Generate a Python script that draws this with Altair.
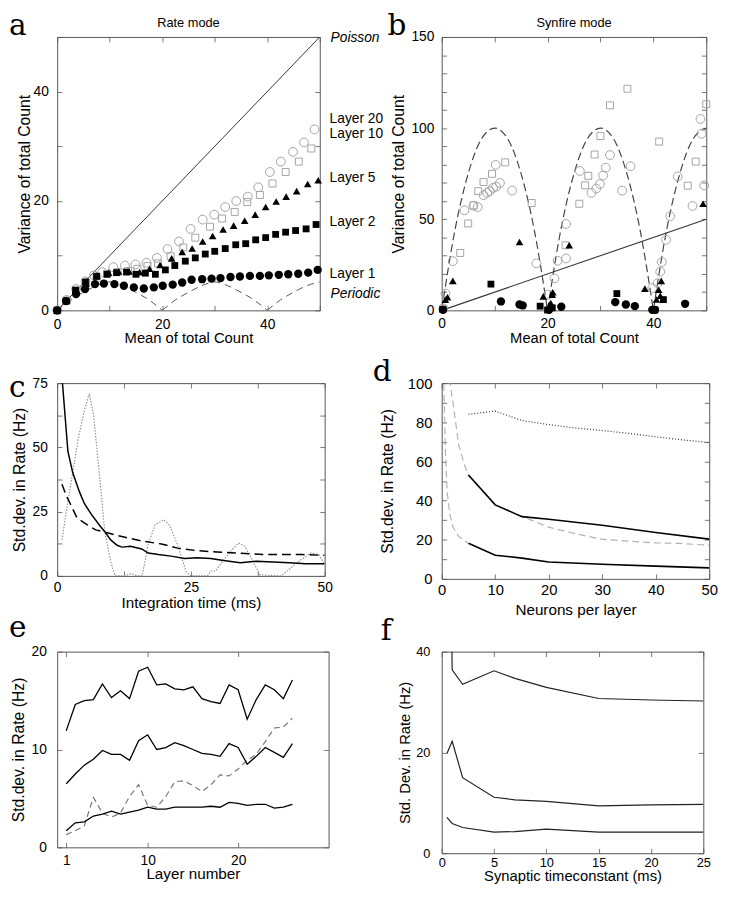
import altair as alt
import pandas as pd

SANS = "Liberation Sans"
SERIF = "DejaVu Serif"

# ---------------- panel a : Rate mode ----------------
A_L1_X = [0, 1.7, 3.6, 5.3, 7.2, 8.9, 10.9, 12.7, 14.6, 16.5, 18.4, 20.1, 22.0, 23.8,
          25.6, 27.6, 29.4, 31.1, 33.0, 34.8, 36.7, 38.6, 40.3, 42.2, 44.0, 45.9, 47.8, 49.6]
A_L1_Y = [0, 1.7, 3.0, 3.9, 4.8, 4.9, 4.8, 4.5, 4.2, 4.0, 4.2, 4.5, 4.7, 5.1,
          5.6, 5.7, 5.8, 5.9, 6.1, 6.2, 6.3, 6.3, 6.4, 6.5, 6.6, 6.7, 6.9, 7.4]
A_L2_X = [0, 1.7, 3.5, 5.4, 7.5, 9.5, 11.3, 13.2, 15.0, 16.8, 18.7, 20.6, 22.4, 24.4,
          26.3, 28.2, 30.0, 32.0, 34.0, 35.9, 37.8, 39.7, 41.6, 43.5, 45.4, 47.4, 49.3]
A_L2_Y = [0, 1.7, 3.7, 5.2, 6.2, 6.6, 6.9, 7.0, 6.6, 6.8, 6.6, 7.4, 8.2, 9.0,
          9.6, 10.3, 10.8, 11.3, 12.0, 12.2, 12.9, 13.3, 13.9, 14.3, 14.6, 14.9, 15.7]
A_L5_X = [0, 1.8, 3.6, 5.5, 7.6, 9.8, 11.7, 13.7, 15.7, 17.6, 19.6, 21.8, 23.8,
          25.7, 27.7, 29.6, 31.6, 33.6, 35.7, 37.7, 39.7, 41.7, 43.6, 45.6, 47.7, 49.7]
A_L5_Y = [0, 1.8, 3.4, 4.9, 6.4, 6.9, 7.1, 7.1, 7.0, 7.6, 8.3, 9.5, 10.7,
          11.3, 12.6, 13.6, 14.8, 15.5, 16.4, 17.5, 18.9, 19.9, 20.8, 21.8, 23.1, 23.8]
A_L10_X = [0, 1.8, 3.6, 5.5, 7.5, 9.5, 11.5, 13.5, 15.3, 17.2, 19.2, 21.6,
           24.0, 26.3, 29.1, 31.4, 33.8, 36.2, 38.6, 41.0, 43.5, 46.0, 48.4]
A_L10_Y = [0, 1.8, 3.6, 5.0, 6.2, 6.7, 7.0, 7.2, 7.6, 8.1, 8.6, 9.9,
           11.5, 13.3, 15.3, 16.8, 18.0, 19.8, 21.1, 23.2, 25.3, 27.2, 29.6]
A_L20_X = [0, 1.8, 3.6, 5.4, 7.0, 8.6, 10.7, 12.9, 14.9, 17.0, 19.0, 21.0, 23.2,
           25.4, 27.7, 29.9, 32.0, 34.1, 36.3, 38.3, 40.5, 42.6, 44.9, 47.0, 49.0]
A_L20_Y = [0, 1.9, 3.9, 5.3, 6.4, 7.0, 7.9, 8.2, 8.4, 8.7, 9.6, 11.2, 12.6,
           14.9, 16.6, 17.5, 18.9, 20.0, 20.8, 22.5, 25.3, 27.2, 29.0, 30.7, 33.1]
A_PER_X = [0, 2.5, 5, 7.5, 10, 12.5, 15, 17.5, 20,
           20, 22.5, 25, 27.5, 30, 32.5, 35, 37.5, 40,
           40, 42.5, 45, 47.5, 50]
A_PER_Y = [0, 1.9, 3.3, 4.5, 5.2, 4.5, 3.3, 1.9, 0,
           0, 1.9, 3.3, 4.5, 5.2, 4.5, 3.3, 1.9, 0,
           0, 1.9, 3.3, 4.5, 5.2]
A_PER_ARC = [1] * 9 + [2] * 9 + [3] * 5
POIS_X = [0, 50]
POIS_Y = [0, 50]
A_LABELS = ["Layer 20", "Layer 10", "Layer 5", "Layer 2", "Layer 1"]
A_LABEL_Y = [35.0, 32.3, 24.2, 16.1, 6.7]
A_ITALIC = ["Poisson", "Periodic"]
A_ITALIC_Y = [49.8, 2.9]
A_TITLE = "Rate mode"

# ---------------- panel b : Synfire mode ----------------
B_C20_X = [0.3, 0.7, 2.1, 4.3, 6.0, 6.8, 7.9, 8.6, 9.1, 9.7, 10.2, 10.3, 11.0, 13.3, 17.9,
           20.1, 21.3, 21.9, 23.5, 23.5, 26.1, 28.3, 29.2, 29.9, 30.5, 31.0, 31.8, 34.1,
           35.7, 39.8, 40.8, 41.3, 41.6, 42.4, 43.2, 44.6, 47.4, 48.9, 49.1, 49.6]
B_C20_Y = [1, 9.2, 27.0, 54.9, 57.4, 56.7, 63.2, 64.5, 65.4, 67.2, 79.8, 67.9, 69.9, 65.7, 25.8,
           8.6, 17.6, 27.2, 47.4, 28.5, 76.5, 64.5, 66.8, 69.3, 74.0, 78.3, 85.2, 65.7,
           79.1, 12.2, 14.9, 21.2, 26.5, 38.7, 51.7, 73.5, 57.3, 105, 96.9, 68.6]
B_S10_X = [0.3, 3.5, 5.0, 6.0, 6.9, 7.9, 9.5, 12.0, 17.0, 23.4, 26.0, 27.1, 27.7, 28.9,
           30.0, 31.8, 35.1, 41.1, 46.5, 48.0, 50.0]
B_S10_Y = [1, 31.5, 47.7, 57.6, 65.4, 70.4, 74.9, 81.2, 58.9, 35.7, 58.5, 68.6, 73.8, 85.5,
           95.6, 112.5, 121.6, 92.6, 68.4, 81.6, 113.1]
B_T5_X = [0.2, 0.7, 1.1, 2.1, 14.7, 19.2, 20.6, 20.9, 21.0, 24.1, 38.4, 40.6, 41.0, 41.3, 41.5, 49.4]
B_T5_Y = [1, 5.9, 7.2, 16.2, 37.5, 7.7, 4, 8.6, 9.9, 35.7, 11.9, 6, 11.3, 8, 16.2, 58.5]
B_S2_X = [0.2, 9.3, 18.6, 20.0, 20.9, 33.1, 40.3, 41.9]
B_S2_Y = [0.5, 14.4, 2.3, 0.2, 1.4, 9.2, 0.2, 5.9]
B_C1_X = [0.25, 11.2, 14.7, 15.3, 20.3, 22.6, 32.8, 34.8, 36.5, 39.8, 40.3, 46.0]
B_C1_Y = [0.3, 4.9, 3.2, 2.7, 0.3, 2.0, 4.5, 3.2, 2.3, 0.3, 0.3, 3.6]
B_PER_X = A_PER_X
B_PER_Y = [0, 44, 75, 94, 100, 94, 75, 44, 0,
           0, 44, 75, 94, 100, 94, 75, 44, 0,
           0, 44, 75, 94, 100]
B_PER_ARC = A_PER_ARC
B_TITLE = "Synfire mode"

# ---------------- panel c ----------------
C_SOLID_X = [0.8, 2.0, 2.9, 4.2, 5.1, 6.3, 7.8, 8.9, 10.0, 11.2, 12.1, 13.7, 15.8, 17.0, 18.9,
             21.3, 23.8, 26.2, 28.7, 31.1, 34.2, 37.3, 40.3, 43.4, 46.4, 50]
C_SOLID_Y = [80, 48.5, 40.2, 32.5, 28.1, 24.2, 20.0, 17.2, 14.0, 11.9, 11.2, 11.5, 10.5, 8.9, 8.3,
             7.7, 6.8, 7.1, 6.8, 6.0, 5.1, 5.7, 5.4, 5.1, 4.7, 4.7]
C_DASH_X = [0.9, 1.7, 2.6, 3.7, 5.7, 7.2, 9.7, 12.1, 15.8, 19.5, 22.5, 26.2, 29.9, 33.6, 38.5, 42.2, 45.8, 50]
C_DASH_Y = [35.7, 31.2, 27.4, 22.6, 19.8, 17.9, 16.6, 15.3, 13.6, 12.4, 10.8, 9.8, 9.3, 8.9, 8.3, 8.3, 8.3, 8.0]
C_DOT_X = [0.9, 1.7, 2.6, 3.9, 5.1, 6.0, 6.8, 7.8, 8.9, 10.0, 10.8, 12.7, 13.9, 14.9, 15.9, 17.0,
           18.3, 19.9, 21.0, 22.5, 24.1, 25.0, 28.1, 28.7, 29.6, 30.5, 32.4, 33.9, 35.1, 36.6,
           37.9, 41.9, 43.4, 45.2, 47.4, 48.9, 50]
C_DOT_Y = [14.0, 24.9, 36.4, 53.0, 64.5, 70.9, 62.6, 41.6, 17.2, 5.7, 0, 0, 0.9, 0, 0, 12.1,
           19.8, 21.9, 19.8, 12.1, 1.7, 0, 0, 1.9, 1.9, 4.5, 9.6, 12.8, 11.5, 5.7,
           0.4, 0, 2.6, 5.7, 8.9, 8.3, 4.5]

# ---------------- panel d ----------------
D_DOT_X = [5, 10, 15, 20, 25, 30, 35, 40, 45, 50]
D_DOT_Y = [84.1, 85.7, 80.9, 78.8, 77.1, 75.8, 74.3, 72.6, 71.0, 69.7]
D_UP_X = [5, 10, 15, 20, 30, 40, 50]
D_UP_Y = [53.1, 37.8, 31.8, 30.5, 27.4, 23.7, 20.3]
D_LOW_X = [5, 10, 15, 20, 30, 40, 50]
D_LOW_Y = [18.2, 12.1, 10.6, 8.6, 7.5, 6.5, 5.6]
D_G1_X = [0.35, 0.7, 1.0, 1.5, 2.1, 3.2, 4.9]
D_G1_Y = [105, 64.7, 44.8, 33.2, 26.5, 21.6, 18.2]
D_G2_X = [1.45, 2.3, 3.2, 4.1, 4.9, 10, 15.1, 20, 24.9, 29.8, 34.7, 39.6, 44.5, 50]
D_G2_Y = [102, 86.2, 68.0, 59.7, 53.1, 37.8, 31.8, 26.4, 23.1, 20.3, 19.3, 18.4, 18.1, 17.2]

# ---------------- panel e ----------------
E_LAYER = list(range(1, 27))
E_TOP = [11.9, 14.6, 15.0, 15.1, 16.7, 15.3, 16.0, 15.2, 18.0, 18.4, 16.6, 16.7, 16.2,
         16.1, 16.4, 15.2, 14.9, 14.7, 16.6, 16.1, 13.1, 15.1, 16.6, 16.1, 15.2, 17.1]
E_MID = [6.5, 7.5, 8.4, 9.0, 9.9, 9.5, 9.5, 8.9, 10.9, 11.5, 10.0, 10.2, 10.7,
         10.4, 10.0, 9.6, 9.5, 9.3, 10.6, 10.2, 8.5, 9.3, 10.2, 9.7, 9.2, 10.6]
E_LOW = [1.7, 2.5, 2.6, 3.2, 3.4, 3.7, 3.4, 3.6, 3.8, 4.1, 3.9, 3.9, 4.1,
         4.1, 4.1, 4.1, 4.2, 4.1, 4.6, 4.5, 4.3, 4.4, 4.4, 4.0, 4.1, 4.4]
E_DASH = [1.3, 1.7, 2.2, 5.1, 3.5, 3.1, 3.5, 5.2, 6.4, 4.3, 4.1, 5.2, 6.7,
          6.8, 6.3, 5.7, 6.4, 7.4, 7.3, 8.0, 8.9, 9.5, 10.8, 12.2, 12.3, 13.2]

# ---------------- panel f ----------------
F_TOP_X = [0.95, 1.0, 2.0, 5.0, 7.0, 10.0, 15.0, 20, 25]
F_TOP_Y = [44, 36.4, 33.5, 36.2, 34.7, 32.9, 30.7, 30.4, 30.2]
F_MID_X = [0.5, 1.0, 2.0, 5.0, 7.0, 10.0, 15.0, 20, 25]
F_MID_Y = [19.8, 22.2, 15.0, 11.1, 10.6, 10.3, 9.4, 9.6, 9.7]
F_LOW_X = [0.5, 1.0, 2.0, 5.0, 7.0, 10.0, 15.0, 25]
F_LOW_Y = [7.1, 5.9, 5.1, 4.2, 4.3, 4.8, 4.2, 4.2]


def xy(x, y, **extra):
    d = {"x": x, "y": y}
    d.update(extra)
    return pd.DataFrame(d)


def sc(dom):
    return alt.Scale(domain=dom, nice=False, zero=False)


def enc(chart, sx, sy, **kw):
    return chart.encode(
        x=alt.X("x:Q", scale=sx, axis=None),
        y=alt.Y("y:Q", scale=sy, axis=None),
        **kw,
    )


def axis_layers(data, sx, sy, xvals, yvals, xexpr, yexpr, xtitle, ytitle,
                lsize, xtsize, ytsize, xlp, ylp, xty, ytx):
    common = dict(domain=False, grid=False, ticks=True, tickSize=5, tickColor="#555",
                  tickWidth=0.8, offset=-5)
    lab = dict(labelFont=SANS, labelFontSize=lsize, labelColor="black",
               labelFlush=False, labelOverlap=False)
    tit = dict(titleFont=SANS, titleFontWeight="normal",
               titleColor="black", titleBaseline="alphabetic")
    base = alt.Chart(data).mark_point(opacity=0)
    main = base.encode(
        x=alt.X("x:Q", scale=sx, axis=alt.Axis(
            orient="bottom", values=xvals, labelExpr=xexpr, labelPadding=xlp,
            title=xtitle, titleY=xty, titleFontSize=xtsize, **common, **lab, **tit)),
        y=alt.Y("y:Q", scale=sy, axis=alt.Axis(
            orient="left", values=yvals, labelExpr=yexpr, labelPadding=ylp,
            title=ytitle, titleX=ytx, titleFontSize=ytsize, **common, **lab, **tit)),
    )
    second = base.encode(
        x=alt.X("x:Q", scale=sx, axis=alt.Axis(
            orient="top", values=xvals, labels=False, title=None, **common)),
        y=alt.Y("y:Q", scale=sy, axis=alt.Axis(
            orient="right", values=yvals, labels=False, title=None, **common)),
    )
    return [main, second]


def note(t, lx, ly, font, size, align="left"):
    return alt.Chart(pd.DataFrame({"t": [t]})).mark_text(
        font=font, fontSize=size, align=align, baseline="alphabetic", color="black"
    ).encode(text="t:N", x=alt.value(lx), y=alt.value(ly))


def panel(layers, axes, w, h, let, title=None):
    extra = [let]
    if title:
        extra.append(note(title, w / 2, -10, SANS, 13, "center"))
    ch = alt.layer(*layers, *axes, *extra).resolve_axis(x="independent", y="independent")
    return ch.properties(width=w, height=h)


def letter(t, lx, ly):
    return note(t, lx, ly, SERIF, 30)


def pts(data, sx, sy, shape, filled, color, size):
    return enc(alt.Chart(data).mark_point(shape=shape, filled=filled, color=color,
                                          size=size, opacity=1, strokeWidth=1), sx, sy)


def line(data, sx, sy, color, width, dash=None, **kw):
    opts = dict(color=color, strokeWidth=width, clip=True)
    if dash:
        opts["strokeDash"] = dash
    return enc(alt.Chart(data).mark_line(**opts), sx, sy, **kw)


GRAY = "#a3a3a3"

# ---- a
sxa, sya = sc([0, 50]), sc([0, 50])
a_layers = [
    enc(alt.Chart(xy(A_PER_X, A_PER_Y, arc=A_PER_ARC)).mark_line(
        color="#555", strokeWidth=1, strokeDash=[7, 5], interpolate="monotone", clip=True),
        sxa, sya, detail="arc:N"),
    line(xy(POIS_X, POIS_Y), sxa, sya, "#333", 1),
    pts(xy(A_L20_X, A_L20_Y), sxa, sya, "circle", False, GRAY, 80),
    pts(xy(A_L10_X, A_L10_Y), sxa, sya, "square", False, GRAY, 50),
    pts(xy(A_L5_X, A_L5_Y), sxa, sya, "triangle-up", True, "black", 60),
    pts(xy(A_L2_X, A_L2_Y), sxa, sya, "square", True, "black", 48),
    pts(xy(A_L1_X, A_L1_Y), sxa, sya, "circle", True, "black", 72),
    alt.Chart(pd.DataFrame({"t": A_LABELS, "y": A_LABEL_Y, "x": [50] * len(A_LABELS)}))
    .mark_text(font=SANS, fontSize=14, align="left", baseline="middle", dx=10, color="black")
    .encode(x=alt.X("x:Q", scale=sxa, axis=None), y=alt.Y("y:Q", scale=sya, axis=None), text="t:N"),
    alt.Chart(pd.DataFrame({"t": A_ITALIC, "y": A_ITALIC_Y, "x": [50] * len(A_ITALIC)}))
    .mark_text(font=SANS, fontSize=14, fontStyle="italic", align="left", baseline="middle",
               dx=11, color="black")
    .encode(x=alt.X("x:Q", scale=sxa, axis=None), y=alt.Y("y:Q", scale=sya, axis=None), text="t:N"),
]
a_axes = axis_layers(xy(POIS_X, POIS_Y), sxa, sya, [0, 10, 20, 30, 40, 50], [0, 10, 20, 30, 40, 50],
                     "datum.value % 20 == 0 ? datum.label : ''",
                     "datum.value % 20 == 0 ? datum.label : ''",
                     "Mean of total Count", "Variance of total Count",
                     14, 15, 16, 7, 9, 38, -33)
pa = panel(a_layers, a_axes, 267, 278, letter("a", -49, -2.2), A_TITLE)

# ---- b
sxb, syb = sc([0, 50]), sc([0, 150])
b_layers = [
    enc(alt.Chart(xy(B_PER_X, B_PER_Y, arc=B_PER_ARC)).mark_line(
        color="#444", strokeWidth=1.2, strokeDash=[8, 4], interpolate="monotone", clip=True),
        sxb, syb, detail="arc:N"),
    line(xy(POIS_X, POIS_Y), sxb, syb, "#333", 1.1),
    pts(xy(B_C20_X, B_C20_Y), sxb, syb, "circle", False, GRAY, 80),
    pts(xy(B_S10_X, B_S10_Y), sxb, syb, "square", False, GRAY, 50),
    pts(xy(B_T5_X, B_T5_Y), sxb, syb, "triangle-up", True, "black", 60),
    pts(xy(B_S2_X, B_S2_Y), sxb, syb, "square", True, "black", 48),
    pts(xy(B_C1_X, B_C1_Y), sxb, syb, "circle", True, "black", 72),
]
b_axes = axis_layers(xy(POIS_X, POIS_Y), sxb, syb, [0, 10, 20, 30, 40, 50],
                     list(range(0, 151, 10)),
                     "datum.value % 20 == 0 ? datum.label : ''",
                     "datum.value % 50 == 0 ? datum.label : ''",
                     "Mean of total Count", "Variance of total Count",
                     14, 15, 16, 6, 8, 38, -44)
pb = panel(b_layers, b_axes, 269, 278, letter("b", -55, -2.2), B_TITLE)

# ---- c
sxc, syc = sc([0, 50]), sc([0, 75])
c_layers = [
    line(xy(C_DOT_X, C_DOT_Y), sxc, syc, "#8a8a8a", 1.1, [1.5, 1.5]),
    line(xy(C_DASH_X, C_DASH_Y), sxc, syc, "black", 1.5, [9, 5]),
    line(xy(C_SOLID_X, C_SOLID_Y), sxc, syc, "black", 1.5),
]
c_axes = axis_layers(xy(C_DASH_X, C_DASH_Y), sxc, syc, [0, 12.5, 25, 37.5, 50],
                     [0, 12.5, 25, 37.5, 50, 62.5, 75],
                     "datum.value % 25 == 0 ? datum.label : ''",
                     "datum.value % 25 == 0 ? datum.label : ''",
                     "Integration time (ms)", "Std.dev. in Rate (Hz)",
                     14, 15.5, 16, 5, 10, 37, -38)
pc = panel(c_layers, c_axes, 272, 196, letter("c", -49, 14.2))

# ---- d
sxd, syd = sc([0, 50]), sc([0, 100])
d_layers = [
    line(xy(D_G1_X, D_G1_Y), sxd, syd, "#b3b3b3", 1.2, [7, 4]),
    line(xy(D_G2_X, D_G2_Y), sxd, syd, "#b3b3b3", 1.2, [7, 4]),
    line(xy(D_DOT_X, D_DOT_Y), sxd, syd, "#333", 1.2, [1, 2]),
    line(xy(D_UP_X, D_UP_Y), sxd, syd, "black", 1.6),
    line(xy(D_LOW_X, D_LOW_Y), sxd, syd, "black", 1.6),
]
d_axes = axis_layers(xy(D_UP_X, D_UP_Y), sxd, syd, [0, 10, 20, 30, 40, 50],
                     list(range(0, 101, 10)),
                     "datum.label",
                     "datum.value % 20 == 0 ? datum.label : ''",
                     "Neurons per layer", "Std.dev. in Rate (Hz)",
                     15, 15.5, 16, 4, 10, 41, -55)
pd_ = panel(d_layers, d_axes, 272, 199, letter("d", -70, -1.8))

# ---- e
sxe, sye = sc([0, 30]), sc([0, 20])
e_layers = [
    line(xy(E_LAYER, E_DASH), sxe, sye, "#777", 1.2, [6, 4]),
    line(xy(E_LAYER, E_LOW), sxe, sye, "black", 1.3),
    line(xy(E_LAYER, E_MID), sxe, sye, "black", 1.3),
    line(xy(E_LAYER, E_TOP), sxe, sye, "black", 1.3),
]
e_axes = axis_layers(xy(E_LAYER, E_MID), sxe, sye, [1, 10, 20], [0, 10, 20],
                     "datum.label", "datum.label",
                     "Layer number", "Std.dev. in Rate (Hz)",
                     14, 15.5, 16, 6, 11, 37, -39)
pe = panel(e_layers, e_axes, 276, 199, letter("e", -49, -14.8))

# ---- f
sxf, syf = sc([0, 25]), sc([0, 40])
f_layers = [
    line(xy(F_TOP_X, F_TOP_Y), sxf, syf, "#222", 1.2),
    line(xy(F_MID_X, F_MID_Y), sxf, syf, "#222", 1.2),
    line(xy(F_LOW_X, F_LOW_Y), sxf, syf, "#222", 1.2),
]
f_axes = axis_layers(xy(F_MID_X, F_MID_Y), sxf, syf, [0, 5, 10, 15, 20, 25], [0, 20, 40],
                     "datum.label", "datum.label",
                     "Synaptic timeconstant (ms)", "Std. Dev. in Rate (Hz)",
                     13, 15, 15, 3, 12, 33, -38)
pf = panel(f_layers, f_axes, 266, 205, letter("f", -62, -11.5))

chart = alt.concat(
    pa, pb, pc, pd_, pe, pf,
    columns=2, spacing={"row": 74, "column": 115}, bounds="flush", align="each",
).configure_view(stroke="#555", strokeWidth=1).properties(
    padding={"left": 0, "top": -5, "right": 4, "bottom": 2}
)

chart.save("out.html", embed_options={"renderer": "svg", "actions": False})
